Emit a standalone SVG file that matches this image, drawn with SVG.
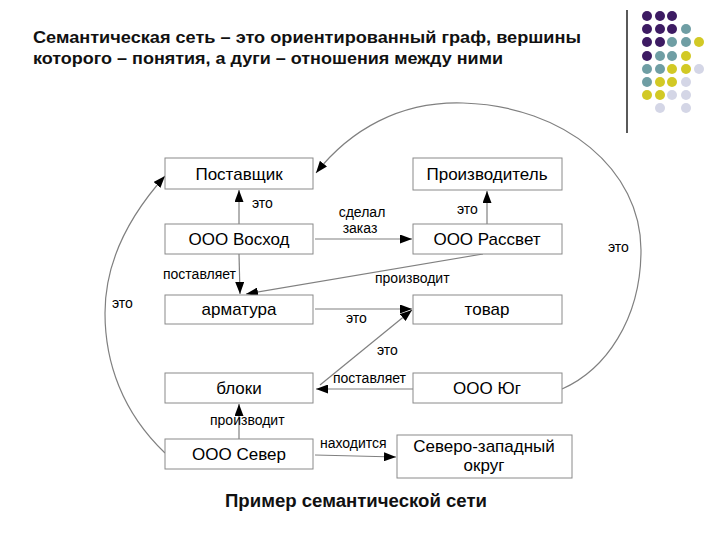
<svg xmlns="http://www.w3.org/2000/svg" width="720" height="540" viewBox="0 0 720 540">
<defs>
<marker id="ah" markerWidth="13" markerHeight="9" refX="12" refY="4.5" orient="auto" markerUnits="userSpaceOnUse">
<path d="M0,0 L12,4.5 L0,9 z" fill="#000"/>
</marker>
<style>
.box{fill:#fff;stroke:#8a8a8a;stroke-width:1}
.nt{font-family:"Liberation Sans",Arial,sans-serif;font-size:17px;fill:#000;text-anchor:middle}
.el{font-family:"Liberation Sans",Arial,sans-serif;font-size:14px;fill:#000}
.ln{fill:none;stroke:#808080;stroke-width:1.2}
.arr{marker-end:url(#ah)}
.ttl{font-family:"Liberation Sans",Arial,sans-serif;font-size:17px;font-weight:bold;fill:#111}
</style>
</defs>
<rect width="720" height="540" fill="#fff"/>
<g id="title">
<text class="ttl" x="33" y="43" textLength="548" lengthAdjust="spacingAndGlyphs">Семантическая сеть  – это ориентированный граф, вершины</text>
<text class="ttl" x="33" y="64" textLength="470" lengthAdjust="spacingAndGlyphs">которого – понятия, а дуги – отношения между ними</text>
</g>
<g id="decor">
<line x1="627" y1="10" x2="627" y2="133" stroke="#000" stroke-width="1.3"/>
<g fill="#3d1b63">
<circle cx="647" cy="16" r="5"/><circle cx="660" cy="16" r="5"/><circle cx="672" cy="16" r="5"/>
<circle cx="647" cy="29" r="5"/><circle cx="660" cy="29" r="5"/><circle cx="672" cy="29" r="5"/>
<circle cx="647" cy="42" r="5"/><circle cx="660" cy="42" r="5"/>
<circle cx="647" cy="56" r="5"/>
</g>
<g fill="#6f9ea4">
<circle cx="686" cy="29" r="5"/>
<circle cx="672" cy="42" r="5"/><circle cx="686" cy="42" r="5"/>
<circle cx="660" cy="56" r="5"/><circle cx="672" cy="56" r="5"/>
<circle cx="647" cy="69" r="5"/><circle cx="660" cy="69" r="5"/>
<circle cx="647" cy="82" r="5"/>
</g>
<g fill="#d2c925">
<circle cx="699" cy="42" r="5"/>
<circle cx="686" cy="56" r="5"/>
<circle cx="672" cy="69" r="5"/><circle cx="686" cy="69" r="5"/>
<circle cx="660" cy="82" r="5"/><circle cx="672" cy="82" r="5"/>
<circle cx="647" cy="95" r="5"/><circle cx="660" cy="95" r="5"/>
</g>
<g fill="#d4d6e6">
<circle cx="699" cy="69" r="5"/>
<circle cx="686" cy="82" r="5"/>
<circle cx="672" cy="95" r="5"/><circle cx="686" cy="95" r="5"/>
<circle cx="660" cy="108" r="5"/><circle cx="686" cy="108" r="5"/>
</g>
</g>
<g id="connectors">
<line class="ln arr" x1="239" y1="224" x2="239" y2="190"/>
<line class="ln arr" x1="487" y1="224" x2="487" y2="191"/>
<line class="ln arr" x1="315" y1="239" x2="412" y2="239"/>
<line class="ln arr" x1="239" y1="254" x2="240" y2="294"/>
<line class="ln arr" x1="483" y1="254" x2="246" y2="294"/>
<line class="ln arr" x1="315" y1="309" x2="412" y2="309"/>
<line class="ln arr" x1="320" y1="385" x2="412" y2="310"/>
<line class="ln arr" x1="413" y1="389" x2="316" y2="389"/>
<line class="ln arr" x1="239" y1="439" x2="239" y2="404"/>
<line class="ln arr" x1="315" y1="455" x2="396" y2="457"/>
<path class="ln arr" d="M165,453 C122,412 105,362 105,313 C105,262 130,215 165,176"/>
<path class="ln arr" d="M562,389 C605,370 641,320 641,250 C641,170 565,106 463,103 C400,101 350,130 316,173"/>
<text class="el" x="252" y="208">это</text>
<text class="el" x="457" y="214">это</text>
<text class="el" x="362" y="217" text-anchor="middle">сделал</text>
<text class="el" x="360" y="233" text-anchor="middle">заказ</text>
<text class="el" x="163" y="279">поставляет</text>
<text class="el" x="375" y="283">производит</text>
<text class="el" x="346" y="323">это</text>
<text class="el" x="377" y="355">это</text>
<text class="el" x="333" y="383">поставляет</text>
<text class="el" x="210" y="425">производит</text>
<text class="el" x="320" y="448">находится</text>
<text class="el" x="112" y="308">это</text>
<text class="el" x="608" y="252">это</text>
</g>
<g id="n-postavshik"><rect class="box" x="165" y="158" width="148" height="31"/><text class="nt" x="239" y="180">Поставщик</text></g>
<g id="n-proizvoditel"><rect class="box" x="413" y="158" width="149" height="32"/><text class="nt" x="487" y="180">Производитель</text></g>
<g id="n-voskhod"><rect class="box" x="165" y="224" width="148" height="30"/><text class="nt" x="239" y="245">ООО Восход</text></g>
<g id="n-rassvet"><rect class="box" x="413" y="224" width="149" height="30"/><text class="nt" x="487" y="245">ООО Рассвет</text></g>
<g id="n-armatura"><rect class="box" x="165" y="295" width="148" height="29"/><text class="nt" x="239" y="315">арматура</text></g>
<g id="n-tovar"><rect class="box" x="413" y="295" width="149" height="29"/><text class="nt" x="487" y="315">товар</text></g>
<g id="n-bloki"><rect class="box" x="165" y="373" width="148" height="30"/><text class="nt" x="239" y="394">блоки</text></g>
<g id="n-yug"><rect class="box" x="413" y="373" width="149" height="30"/><text class="nt" x="487" y="394">ООО Юг</text></g>
<g id="n-sever"><rect class="box" x="165" y="439" width="148" height="30"/><text class="nt" x="239" y="460">ООО Север</text></g>
<g id="n-szo"><rect class="box" x="397" y="435" width="175" height="43"/><text class="nt" x="484" y="452">Северо-западный</text><text class="nt" x="484" y="471">округ</text></g>
<g id="caption"><text class="ttl" x="225" y="507" textLength="262" lengthAdjust="spacingAndGlyphs" style="font-size:18px">Пример семантической сети</text></g>
</svg>
